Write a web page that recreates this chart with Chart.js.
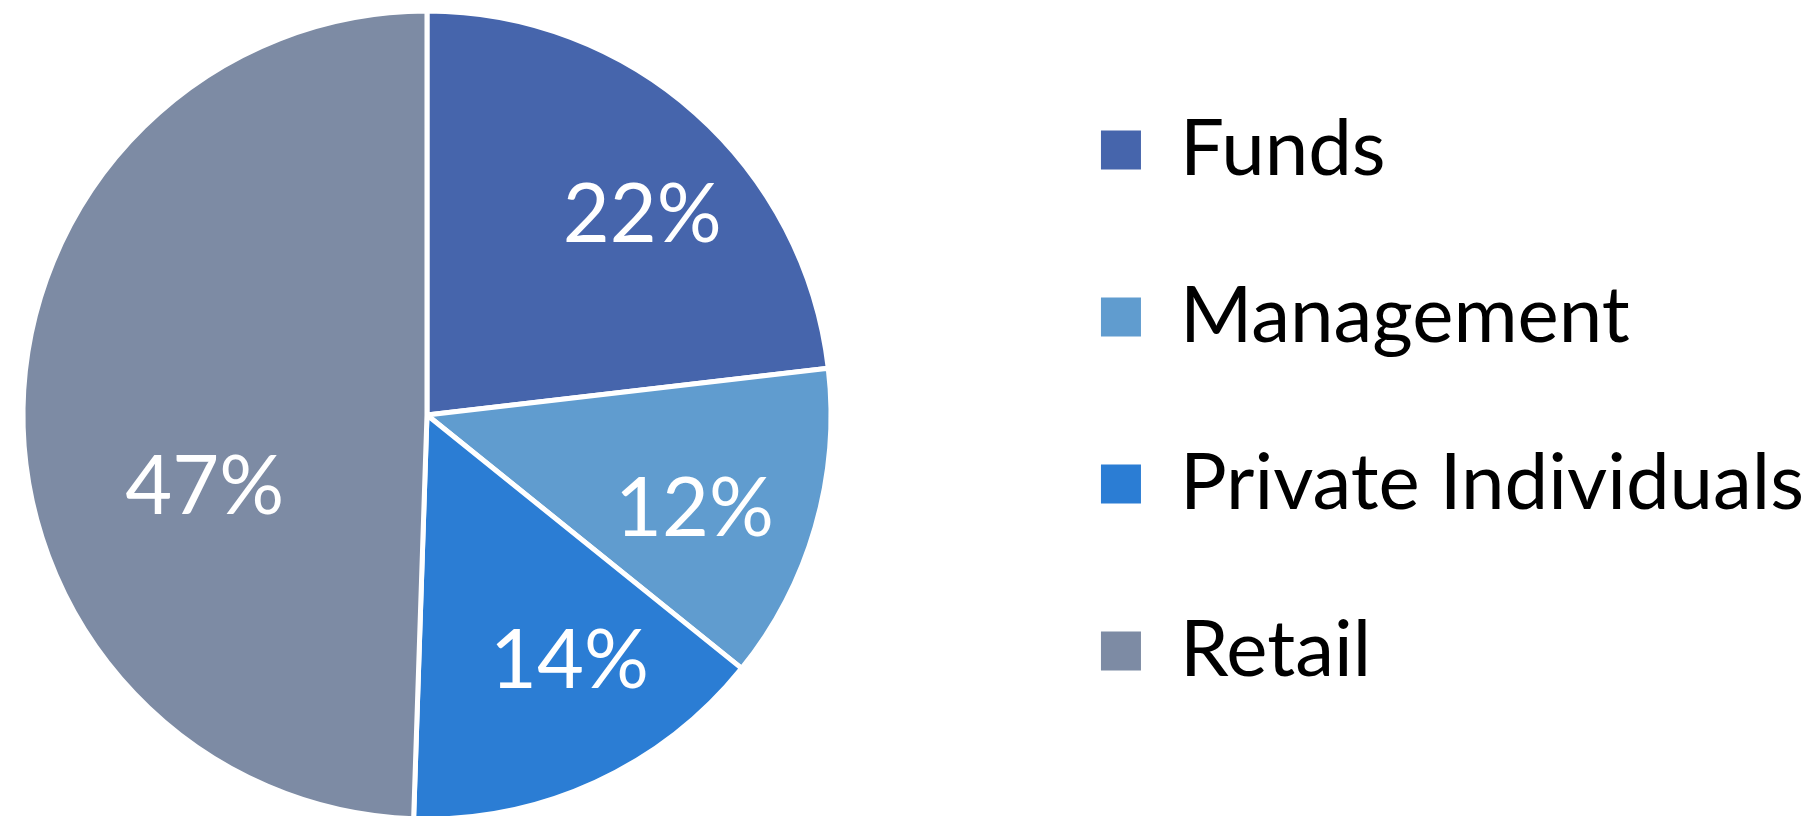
<!DOCTYPE html>
<html lang="en">
<head>
<meta charset="UTF-8" />
<title>Shareholder structure</title>
<style>
	html, body { margin: 0; padding: 0; background: #fff; overflow: hidden; width: 1814px; height: 816px; }
	#wrap { position: relative; width: 1814px; height: 816px; }
	#myChart { position: absolute; top: 0; }
</style>
</head>
<body>
<div id="wrap"><canvas id="myChart" width="1814" height="830"></canvas></div>

<script src="https://cdn.jsdelivr.net/npm/chart.js"></script>
<script>
const labels = ['Funds', 'Management', 'Private Individuals', 'Retail'];
const shares = [22, 12, 14, 47];
const colours = ['#4665ac', '#609ccf', '#2b7dd4', '#7d8ba4'];

const legendFont = 78;
const legendPad = 89;
const legendBox = 40;
const pieCentreX = 427;

// white percentage text inside each slice
const pctLabels = {
	id: 'pctLabels',
	afterDatasetsDraw(chart, args, opts) {
		const ctx = chart.ctx;
		const meta = chart.getDatasetMeta(0);
		ctx.save();
		ctx.font = opts.size + 'px Lato';
		ctx.fillStyle = '#fff';
		ctx.textAlign = 'center';
		ctx.textBaseline = 'alphabetic';
		meta.data.forEach((arc, i) => {
			const p = arc.getProps(['x', 'y', 'startAngle', 'endAngle', 'outerRadius'], true);
			const a = (p.startAngle + p.endAngle) / 2 + opts.nudge[i] * Math.PI / 180;
			const r = p.outerRadius * opts.dist[i];
			ctx.fillText(shares[i] + '%', p.x + Math.cos(a) * r, p.y + Math.sin(a) * r + opts.size * 0.358);
		});
		ctx.restore();
	}
};

// the pie sits centred in the chart area, so widen the canvas to the left
// by however much the legend leaves over
const canvas = document.getElementById('myChart');
const m = canvas.getContext('2d');
m.font = legendFont + 'px Lato';
const textW = Math.max(...labels.map(l => m.measureText(l).width));
const legendW = legendPad + legendBox + legendFont / 2 + textW + 10;
const shift = Math.round(1814 - legendW - 2 * pieCentreX);
canvas.width = 1814 + shift;
canvas.style.left = -shift + 'px';

const baseLabels = Chart.overrides.pie.plugins.legend.labels.generateLabels;

new Chart(canvas, {
	type: 'pie',
	data: {
		labels: labels,
		datasets: [{
			data: shares,
			backgroundColor: colours,
			borderColor: '#fff',
			borderWidth: 5,
			radius: 404
		}]
	},
	options: {
		responsive: false,
		animation: false,
		layout: { padding: { top: 22, bottom: 22, left: 0, right: 0 } },
		plugins: {
			tooltip: { enabled: false },
			legend: {
				position: 'right',
				align: 'start',
				labels: {
					boxWidth: legendBox,
					boxHeight: 39,
					padding: legendPad,
					color: '#000',
					font: { family: 'Lato', size: legendFont },
					generateLabels(chart) {
						return baseLabels(chart).map(l => Object.assign(l, { lineWidth: 0 }));
					}
				}
			},
			pctLabels: {
				size: 81,
				dist: [0.73, 0.70, 0.70, 0.577],
				nudge: [5.2, 2.8, -5.6, -18.5]
			}
		}
	},
	plugins: [pctLabels]
});
</script>
</body>
</html>
